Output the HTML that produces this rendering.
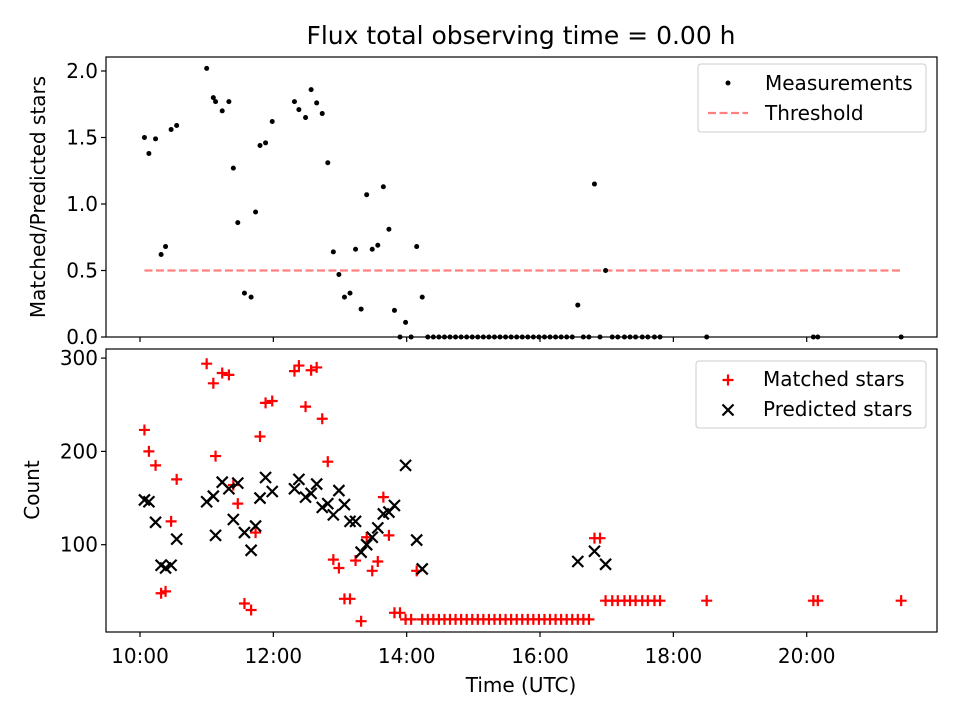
<!DOCTYPE html>
<html><head><meta charset="utf-8">
<style>
body{margin:0;background:#fff;font-family:"Liberation Sans","DejaVu Sans",sans-serif;}
svg text{font-family:"DejaVu Sans","Liberation Sans",sans-serif;fill:#000;}
</style></head>
<body>
<svg id="chart" width="960" height="720" viewBox="0 0 960 720" xmlns="http://www.w3.org/2000/svg">
<rect width="960" height="720" fill="#fff"/>
<text x="521" y="44" font-size="25" text-anchor="middle">Flux total observing time = 0.00 h</text>
<g id="topg"></g>
<g id="botg"></g>
</svg>
<script>
// minutes since 10:00 UTC
const timeMin = [4,8,14,19,23,28,33,60,66,68,74,80,84,88,94,100,104,108,113,119,139,143,149,154,159,164,169,174,179,184,189,194,199,204,209,214,219,224,229,234,239,244,249,254,
259,264,269,274,279,284,289,294,299,304,309,314,319,324,329,334,339,344,349,354,359,364,369,374,379,384,389,
394,399,404,409,414,419,425,430,436,441,446,452,457,463,468,510,606,610,685];
const ratio = [1.50,1.38,1.49,0.62,0.68,1.56,1.59,2.02,1.80,1.77,1.70,1.77,1.27,0.86,0.33,0.30,0.94,1.44,1.46,1.62,1.77,1.71,1.65,1.86,1.76,1.68,1.31,0.64,0.47,0.30,0.33,0.66,0.21,1.07,0.66,0.69,1.13,0.81,0.20,0,0.11,0,0.68,0.30,
0,0,0,0,0,0,0,0,0,0,0,0,0,0,0,0,0,0,0,0,0,0,0,0,0,0,0,
0.24,0,0,1.15,0,0.50,0,0,0,0,0,0,0,0,0,0,0,0,0];
const matched = [223,200,185,48,50,125,170,294,273,195,284,282,164,144,37,30,113,216,252,254,286,292,248,287,290,235,189,84,75,42,42,83,18,108,72,82,151,110,27,27,20,20,72,20,
20,20,20,20,20,20,20,20,20,20,20,20,20,20,20,20,20,20,20,20,20,20,20,20,20,20,20,
20,20,20,107,107,40,40,40,40,40,40,40,40,40,40,40,40,40,40];
const predicted = [148,146,124,78,75,78,106,146,152,110,167,160,127,166,113,94,120,150,172,157,160,170,151,155,165,140,144,132,158,143,125,125,92,100,108,118,133,135,142,null,185,null,105,74,
null,null,null,null,null,null,null,null,null,null,null,null,null,null,null,null,null,null,null,null,null,null,null,null,null,null,null,
82,null,null,93,null,79,null,null,null,null,null,null,null,null,null,null,null,null,null];
const threshold = 0.5;
const topTicks = [0.0,0.5,1.0,1.5,2.0];
const botTicks = [100,200,300];
const xTickHours = [10,12,14,16,18,20];
const xTickLabels = ["10:00","12:00","14:00","16:00","18:00","20:00"];

const NS="http://www.w3.org/2000/svg";
function mk(parent,tag,attrs){const e=document.createElementNS(NS,tag);for(const k in attrs)e.setAttribute(k,attrs[k]);parent.appendChild(e);return e;}
const L=106,R=937;
const FS=20;
const xPx = m => 140 + (m/60)*66.67;
const xHour = h => 140 + (h-10)*66.67;
const yTop = v => 337 - v*133;
const yBot = v => 638 - v*0.933;

const gTop=document.getElementById('topg'), gBot=document.getElementById('botg');

let f=mk(gTop,'rect',{x:L,y:57,width:R-L,height:280,fill:'none',stroke:'#000','stroke-width':1.2});


topTicks.forEach(t=>{
  const y=yTop(t);
  let l=mk(gTop,'line',{x1:L-5,x2:L,y1:y,y2:y,stroke:'#000','stroke-width':1.2});
  
  
  let tx=mk(gTop,'text',{x:L-8,y:y+7,'font-size':FS,'text-anchor':'end'});tx.textContent=t.toFixed(1);
  
  
});
xTickHours.forEach(h=>{
  const x=xHour(h);
  let l=mk(gTop,'line',{x1:x,x2:x,y1:337,y2:342,stroke:'#000','stroke-width':1.2});
  
  
});
let yl=mk(gTop,'text',{x:0,y:0,'font-size':FS,'text-anchor':'middle',transform:'translate(45,197) rotate(-90)'});
yl.textContent='Matched/Predicted stars';


let th=mk(gTop,'line',{x1:xPx(timeMin[0]),x2:xPx(timeMin[timeMin.length-1]),y1:yTop(threshold),y2:yTop(threshold),stroke:'rgba(255,0,0,0.5)','stroke-width':2.2,'stroke-dasharray':'8,3.5'});


ratio.forEach((v,i)=>{
  let c=mk(gTop,'circle',{cx:xPx(timeMin[i]),cy:yTop(v),r:2.5,fill:'#000'});
  
  
});
let lg=mk(gTop,'rect',{x:698,y:64,width:228,height:68,rx:3,fill:'#fff','fill-opacity':0.8,stroke:'#ccc'});


mk(gTop,'circle',{cx:728,cy:83,r:2.5,fill:'#000'});
let t1=mk(gTop,'text',{x:765,y:90,'font-size':FS});t1.textContent='Measurements';


mk(gTop,'line',{x1:708,x2:748,y1:113,y2:113,stroke:'rgba(255,0,0,0.5)','stroke-width':2.2,'stroke-dasharray':'8,3.5'});
let t2=mk(gTop,'text',{x:765,y:120,'font-size':FS});t2.textContent='Threshold';



let f2=mk(gBot,'rect',{x:L,y:349,width:R-L,height:283,fill:'none',stroke:'#000','stroke-width':1.2});


botTicks.forEach(t=>{
  const y=yBot(t);
  let l=mk(gBot,'line',{x1:L-5,x2:L,y1:y,y2:y,stroke:'#000','stroke-width':1.2});
  
  
  let tx=mk(gBot,'text',{x:L-8,y:y+7,'font-size':FS,'text-anchor':'end'});tx.textContent=t;
  
  
});
xTickHours.forEach((h,i)=>{
  const x=xHour(h);
  let l=mk(gBot,'line',{x1:x,x2:x,y1:632,y2:637,stroke:'#000','stroke-width':1.2});
  
  
  let tx=mk(gBot,'text',{x:x,y:663,'font-size':FS,'text-anchor':'middle'});tx.textContent=xTickLabels[i];
  
  
});
let yl2=mk(gBot,'text',{x:0,y:0,'font-size':FS,'text-anchor':'middle',transform:'translate(39,490) rotate(-90)'});
yl2.textContent='Count';


let xl=mk(gBot,'text',{x:521,y:692,'font-size':FS,'text-anchor':'middle'});xl.textContent='Time (UTC)';



function plus(g,x,y){return mk(g,'path',{d:`M${x-5.5},${y}H${x+5.5}M${x},${y-5.5}V${y+5.5}`,stroke:'#f00','stroke-width':2.2,fill:'none'});}
function cross(g,x,y){return mk(g,'path',{d:`M${x-5.5},${y-5.5}L${x+5.5},${y+5.5}M${x-5.5},${y+5.5}L${x+5.5},${y-5.5}`,stroke:'#000','stroke-width':2.2,fill:'none'});}
matched.forEach((v,i)=>{
  if(v==null)return;
  let p=plus(gBot,xPx(timeMin[i]),yBot(v));
  
  
});
predicted.forEach((v,i)=>{
  if(v==null)return;
  let p=cross(gBot,xPx(timeMin[i]),yBot(v));
  
  
});
let lg2=mk(gBot,'rect',{x:696,y:361,width:230,height:67,rx:3,fill:'#fff','fill-opacity':0.8,stroke:'#ccc'});


plus(gBot,728,380);
let t3=mk(gBot,'text',{x:763,y:386,'font-size':FS});t3.textContent='Matched stars';


cross(gBot,728,410);
let t4=mk(gBot,'text',{x:763,y:416,'font-size':FS});t4.textContent='Predicted stars';


</script>
</body></html>
